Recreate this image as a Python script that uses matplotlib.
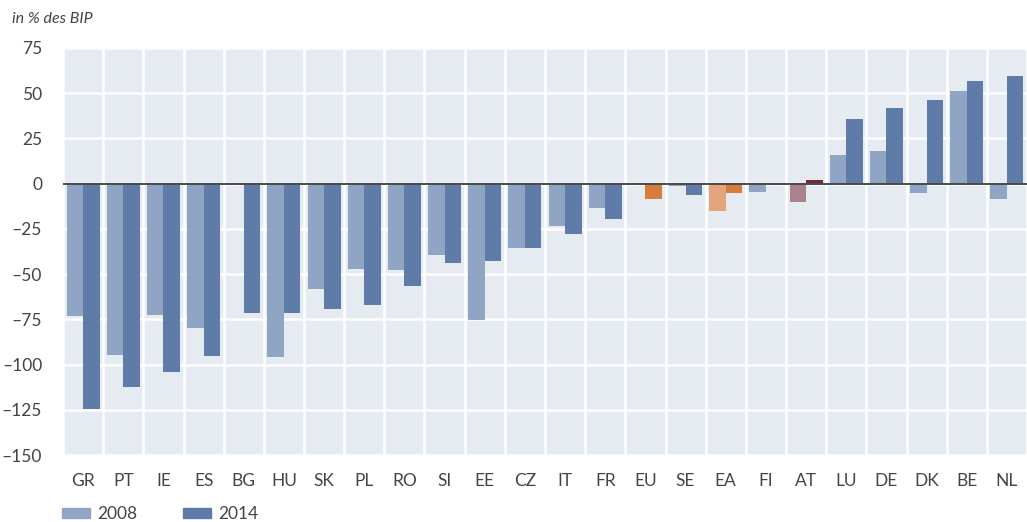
import numpy as np
import matplotlib.pyplot as plt
from matplotlib.patches import Patch

countries = ['GR', 'PT', 'IE', 'ES', 'BG', 'HU', 'SK', 'PL', 'RO', 'SI', 'EE', 'CZ',
             'IT', 'FR', 'EU', 'SE', 'EA', 'FI', 'AT', 'LU', 'DE', 'DK', 'BE', 'NL']
v2008 = [-73.3, -94.9, -72.4, -80.0, np.nan, -95.8, -58.1, -46.9, -48.0, -39.4, -75.1, -35.4,
         -23.5, -13.4, np.nan, -1.3, -15.0, -4.8, -10.1, 16.1, 18.3, -5.1, 51.3, -8.4]
v2014 = [-124.6, -112.5, -104.0, -95.2, -71.6, -71.3, -69.1, -66.9, -56.8, -43.6, -42.5, -35.4,
         -27.7, -19.4, -8.4, -6.2, -5.1, -0.7, 1.8, 35.9, 41.9, 46.3, 56.8, 59.5]

c08 = '#90a5c4'
c14 = '#5f7ca9'
col08 = [c08] * len(countries)
col14 = [c14] * len(countries)
col08[countries.index('EA')] = '#e3a57b'
col14[countries.index('EA')] = '#d67d3d'
col14[countries.index('EU')] = '#d67d3d'
col08[countries.index('AT')] = '#a8838b'
col14[countries.index('AT')] = '#6e2b3f'
col14[countries.index('FI')] = '#3f5478'

txt = '#444444'
plt.rcParams['font.family'] = ['Lato', 'DejaVu Sans']

fig = plt.figure(figsize=(10.27, 5.22), dpi=100)
ax = fig.add_axes([63 / 1027, (522 - 455) / 522, 1 - 63 / 1027, (455 - 48) / 522])
ax.set_facecolor('#e6eaf1')

x = np.arange(len(countries))
w = 0.41
ax.bar(x - w / 2, v2008, width=w, color=col08, zorder=2)
ax.bar(x + w / 2, v2014, width=w, color=col14, zorder=2)
ax.axhline(0, color='#4a4a4a', linewidth=1.4, zorder=3)

ax.set_xlim(-0.5, len(countries) - 0.5)
ax.set_ylim(-150, 75)
ax.set_yticks(np.arange(-150, 76, 25))
ax.set_yticklabels([f'{t}'.replace('-', '\u2013') for t in range(-150, 76, 25)])
ax.set_xticks(x)
ax.set_xticklabels(countries)
ax.set_xticks(np.arange(-0.5, len(countries), 1), minor=True)
ax.grid(False)
ax.grid(True, which='minor', axis='x', color='white', linewidth=1.8, zorder=1)
ax.grid(True, which='major', axis='y', color='white', linewidth=1.8, zorder=1)
ax.tick_params(which='both', length=0)
ax.tick_params(axis='y', labelsize=12.5, labelcolor=txt, pad=15)
ax.tick_params(axis='x', labelsize=12.5, labelcolor=txt, pad=13)
for s in ax.spines.values():
    s.set_visible(False)

fig.text(12 / 1027, 1 - 19 / 522, 'in % des BIP', fontsize=11.5, style='italic',
         color=txt, va='center', ha='left')

handles = [Patch(color=c08, label='2008'), Patch(color=c14, label='2014')]
fig.legend(handles=handles, loc='center left', bbox_to_anchor=(62 / 1027, 1 - 514 / 522),
           ncol=2, frameon=False, fontsize=12.5, handlelength=1.6, handleheight=0.55,
           columnspacing=2.6, handletextpad=0.45, labelcolor=txt,
           borderpad=0, borderaxespad=0)

fig.savefig('out.png', dpi=100)
